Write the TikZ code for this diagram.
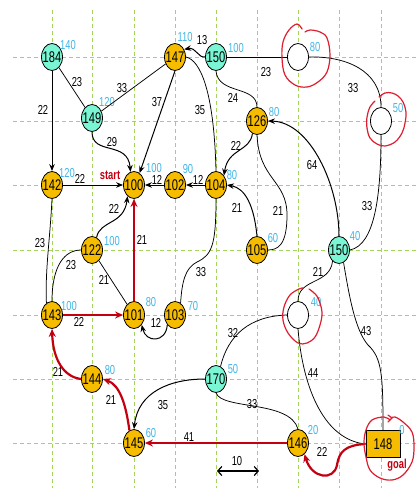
\documentclass[tikz,border=0pt]{standalone}
\usepackage{fontspec}
\setmainfont{Liberation Sans}[FakeStretch=0.72]
\usetikzlibrary{shapes.geometric,arrows.meta}

\definecolor{gold}{RGB}{246,188,0}
\definecolor{aqua}{RGB}{122,246,212}
\definecolor{distc}{RGB}{66,182,230}
\definecolor{dred}{RGB}{196,0,16}
\definecolor{penred}{RGB}{222,30,48}
\definecolor{gridc}{RGB}{164,212,92}

\tikzset{
  gridline/.style={draw=gridc, line width=0.9pt, dash pattern=on 4pt off 3pt},
  vtx/.style={ellipse, draw, line width=0.8pt, minimum width=21pt, minimum height=27pt,
              inner xsep=-3pt, inner ysep=0pt, font=\fontsize{15.5}{15.5}\selectfont},
  closed/.style={vtx, fill=gold},
  opened/.style={vtx, fill=aqua},
  blank/.style={vtx, fill=white},
  goalbox/.style={rectangle, draw, line width=0.8pt, fill=gold, minimum width=34pt,
                  minimum height=27pt, inner sep=0pt, font=\fontsize{15.5}{15.5}\selectfont},
  dist/.style={text=distc, inner sep=0pt, font=\fontsize{13}{13}\selectfont},
  wt/.style={inner sep=0pt, font=\fontsize{13}{13}\selectfont},
  tag/.style={text=dred, inner sep=0pt, font=\fontsize{13}{13}\selectfont\bfseries},
  ln/.style={draw, line width=0.75pt},
  arr/.style={draw, line width=1pt, -{Stealth[length=7pt,width=5.5pt]}},
  redarr/.style={draw=dred, line width=2.2pt, -{Stealth[length=8pt,width=7pt]}},
  ring/.style={draw=penred, line width=1.2pt, line cap=round},
}

\begin{document}
\begin{tikzpicture}[x=1pt,y=-1pt]
\useasboundingbox (0,0) rectangle (417,488);
\fill[white] (0,0) rectangle (417,488);

% dashed grid
\foreach \y in {57,121,185,250,315,379,443}
  \draw[gridline] (13,\y) -- (417,\y);
\foreach \x in {52,92,134,175,216,257,298,339,381}
  \draw[gridline] (\x,10) -- (\x,488);

% vertices
\node[opened] (n184) at (52,57) {184};
\node[opened] (n149) at (92,118) {149};
\node[closed] (n147) at (175,57) {147};
\node[opened] (n150a) at (216,57) {150};
\node[blank]  (c80) at (298,57) {};
\node[blank]  (c50) at (381,121) {};
\node[closed] (n126) at (257,121) {126};
\node[closed] (n142) at (52,185) {142};
\node[closed] (n100) at (134,185) {100};
\node[closed] (n102) at (175,185) {102};
\node[closed] (n104) at (216,185) {104};
\node[closed] (n122) at (92,250) {122};
\node[closed] (n105) at (257,250) {105};
\node[opened] (n150b) at (339,250) {150};
\node[closed] (n143) at (52,315) {143};
\node[closed] (n101) at (134,315) {101};
\node[closed] (n103) at (175,315) {103};
\node[blank]  (c40) at (298,315) {};
\node[closed] (n144) at (92,379) {144};
\node[opened] (n170) at (216,379) {170};
\node[closed] (n145) at (134,443) {145};
\node[closed] (n146) at (298,443) {146};
\node[goalbox] (n148) at (383,444) {148};

% distance values
\node[dist] at (68,45) {140};
\node[dist] at (107,102) {120};
\node[dist] at (185,37) {110};
\node[dist] at (236,48) {100};
\node[dist] at (315,47) {80};
\node[dist] at (398,108) {50};
\node[dist] at (274,112) {80};
\node[dist] at (67,173) {120};
\node[dist] at (154,168) {100};
\node[dist] at (188,169) {90};
\node[dist] at (232,175) {80};
\node[dist] at (112,241) {100};
\node[dist] at (273,238) {60};
\node[dist] at (355,236) {40};
\node[dist] at (69,306) {100};
\node[dist] at (151,302) {80};
\node[dist] at (193,306) {70};
\node[dist] at (316,302) {40};
\node[dist] at (110,370) {80};
\node[dist] at (233,369) {50};
\node[dist] at (151,433) {60};
\node[dist] at (313,430) {20};
\node[dist] at (402,430) {0};

% black connectors
\draw[arr] (n184) -- (n142);
\draw[ln] (n184) -- (n149);
\draw[ln] (n149) -- (n147);
\draw[arr] (n149.south) .. controls (92,156) and (128,140) .. (n100.105);
\draw[arr] (n147.south) -- (n100.65);
\draw[arr] (n150a.west) .. controls (198,58) and (196,47) .. (n147.40);
\draw[ln] (n147.east) .. controls (200,60) and (214,90) .. (n104.north);
\draw[ln] (n150a) -- (c80);
\draw[ln] (n150a.south) .. controls (218,95) and (257,85) .. (n126.north);
\draw[ln] (c80.east) .. controls (345,56) and (381,70) .. (c50.north);
\draw[arr] (n126.250) .. controls (250,152) and (228,148) .. (n104.50);
\draw[ln] (n126.south) .. controls (259,180) and (287,180) .. (287,215)
          .. controls (287,245) and (278,250) .. (n105.east);
\draw[arr] (n150b.north) .. controls (339,185) and (310,122) .. (n126.east);
\draw[ln] (c50.south) .. controls (381,195) and (375,245) .. (n150b.east);
\draw[arr] (n142) -- (n100);
\draw[arr] (n102) -- (n100);
\draw[arr] (n104) -- (n102);
\draw[arr] (n105.north) .. controls (254,205) and (245,188) .. (n104.east);
\draw[ln] (n104.south) .. controls (216,245) and (212,255) .. (197,262)
          .. controls (185,268) and (182,282) .. (n103.65);
\draw[ln] (n142.south) .. controls (50,240) and (45,270) .. (n143.115);
\draw[arr] (n122.70) .. controls (100,220) and (124,225) .. (n100.240);
\draw[ln] (n122.west) .. controls (65,250) and (52,265) .. (n143.north);
\draw[ln] (n122) -- (n101);
\draw[arr] (n103.south west) .. controls (166,343) and (146,343) .. (n101.south east);
\draw[ln] (n150b.240) .. controls (330,285) and (298,278) .. (c40.north);
\draw[ln] (n150b.290) .. controls (349,295) and (355,330) .. (368,345)
          .. controls (382,358) and (383,375) .. (n148.north);
\draw[ln] (c40.west) .. controls (250,316) and (228,335) .. (n170.70);
\draw[ln] (c40.south) .. controls (303,390) and (325,440) .. (n148.west);
\draw[arr] (n170.west) .. controls (170,379) and (138,392) .. (n145.north);
\draw[ln] (n170.south) .. controls (222,410) and (290,400) .. (n146.north);

% red route
\draw[redarr] (n143) -- (n101);
\draw[redarr] (n101) -- (n100);
\draw[redarr] (n146) -- (n145);
\draw[redarr] (n148.west) .. controls (345,445) and (339,452) .. (337,465)
          .. controls (334,481) and (312,479) .. (n146.300);
\draw[redarr] (n145.110) .. controls (126,405) and (120,385) .. (n144.east);
\draw[redarr] (n144.west) .. controls (64,377) and (53,360) .. (n143.south);

% weights
\node[wt] at (43,110) {22};
\node[wt] at (77,82) {23};
\node[wt] at (122,88) {33};
\node[wt] at (157,102) {37};
\node[wt] at (112,142) {29};
\node[wt] at (200,110) {35};
\node[wt] at (202,40) {13};
\node[wt] at (266,72) {23};
\node[wt] at (233,98) {24};
\node[wt] at (353,88) {33};
\node[wt] at (236,146) {22};
\node[wt] at (312,165) {64};
\node[wt] at (367,206) {33};
\node[wt] at (237,208) {21};
\node[wt] at (278,211) {21};
\node[wt] at (157,180) {12};
\node[wt] at (198,180) {12};
\node[wt] at (80,179) {22};
\node[wt] at (114,209) {22};
\node[wt] at (142,240) {21};
\node[wt] at (40,243) {23};
\node[wt] at (71,265) {23};
\node[wt] at (104,280) {21};
\node[wt] at (201,272) {33};
\node[wt] at (79,322) {22};
\node[wt] at (156,323) {12};
\node[wt] at (318,272) {21};
\node[wt] at (366,331) {43};
\node[wt] at (233,333) {32};
\node[wt] at (313,373) {44};
\node[wt] at (252,404) {33};
\node[wt] at (322,452) {22};
\node[wt] at (58,372) {21};
\node[wt] at (111,400) {21};
\node[wt] at (163,405) {35};
\node[wt] at (189,437) {41};

\node[tag] (lstart) at (110,175) {start};
\node[tag] (lgoal) at (397,465) {goal};

% hand-drawn marks
\draw[ring] plot[smooth, tension=0.6] coordinates {(302,29) (297,24) (289,30) (283,42) (282,58) (285,75)
  (295,85) (307,87) (318,82) (327,72) (330,55) (327,38) (320,32) (310,30) (305,32)};
\draw[ring] plot[smooth, tension=0.6] coordinates {(379,97) (385,93) (392,93) (398,96) (403,102)
  (406,112) (405,123) (402,133) (395,142) (385,146) (377,144) (370,138) (367,128) (367,117)
  (370,107) (375,101)};
\draw[ring] plot[smooth, tension=0.6] coordinates {(303,288) (299,289) (290,295) (284,307) (283,320)
  (288,333) (298,343) (307,343) (315,337) (320,325) (322,312) (318,298) (313,292) (309,289)};
\draw[ring] plot[smooth, tension=0.6] coordinates {(390,420) (384,417) (372,420) (366,430) (364,443)
  (366,457) (370,470) (380,478) (392,480) (403,475) (412,462) (414,447) (412,432) (403,422)
  (395,417) (391,418)};
\draw[ring] (388,415) -- (392,418) -- (388,422);

% scale bar
\coordinate (sa) at (217,471);
\coordinate (sb) at (259,471);
\draw[line width=1.2pt, {Straight Barb[length=4pt,width=9pt]}-{Straight Barb[length=4pt,width=9pt]}] (sa) -- (sb);
\node[wt] at (237,461) {10};
\end{tikzpicture}
\end{document}
